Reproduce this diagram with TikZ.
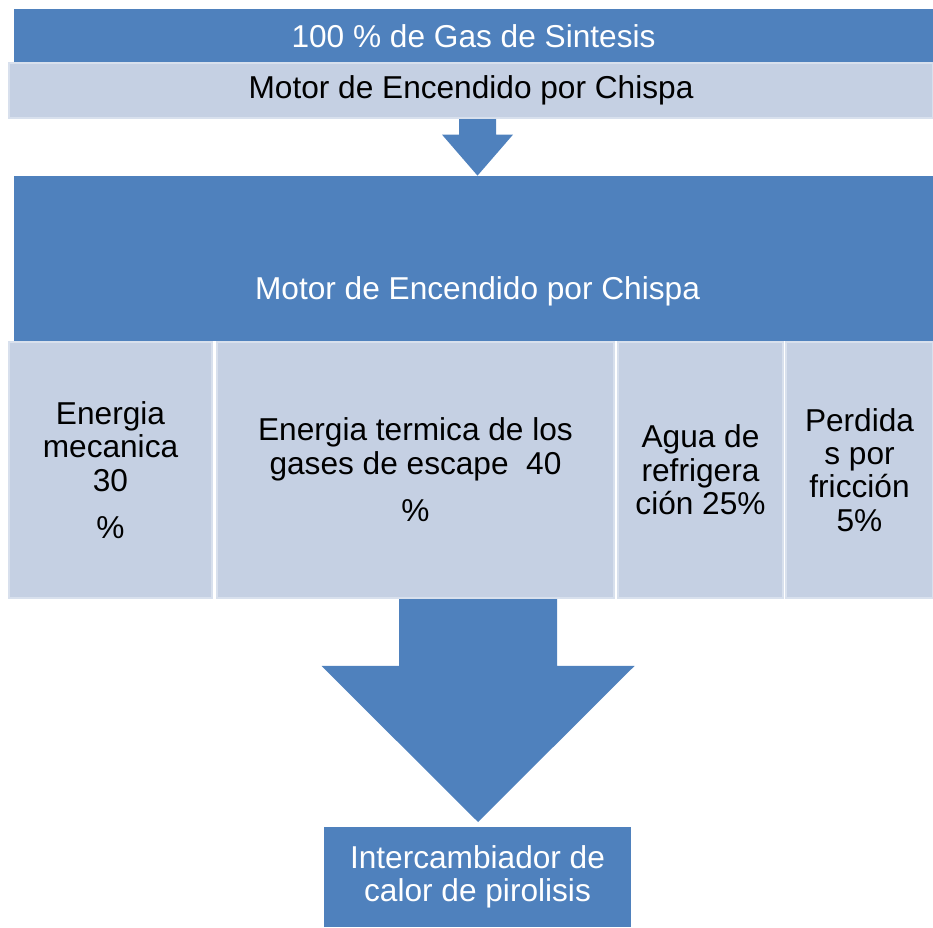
\documentclass[tikz,border=0pt]{standalone}
\usepackage{fontspec}
\setmainfont{Liberation Sans}
\usetikzlibrary{positioning}
\definecolor{boxblue}{RGB}{79,129,189}
\definecolor{boxlight}{RGB}{197,208,227}
\definecolor{boxedge}{RGB}{216,224,237}
\begin{document}
\begin{tikzpicture}[x=1cm,y=1cm]
\tikzset{
  bluebox/.style={rectangle,fill=boxblue,text=white,inner sep=0pt,align=center,
    font=\fontsize{18}{19}\selectfont},
  lightbox/.style={rectangle,fill=boxlight,draw=boxedge,line width=1.2pt,text=black,
    inner sep=0pt,align=center,font=\fontsize{18}{19}\selectfont},
  blockarrow/.style={fill=boxblue}
}
\useasboundingbox (0,0) rectangle (18.66,18.54);
\node[bluebox,minimum width=18.38cm,minimum height=1.08cm] (n_gas) at (9.47,17.82) {100 \% de Gas de Sintesis};
\node[lightbox,minimum width=18.48cm,minimum height=1.10cm] (n_chispa) at (9.42,16.73) {Motor de Encendido por Chispa};
\node[bluebox,minimum width=18.38cm,minimum height=3.30cm] (n_motor) at (9.47,13.37) {};
\node[bluebox] (n_motortxt) at (9.55,12.72) {Motor de Encendido por Chispa};
\node[lightbox,minimum width=4.06cm,minimum height=5.12cm] (n_mec) at (2.21,9.14) {Energia\\mecanica\\30\\[0.28cm]\%};
\node[lightbox,minimum width=7.94cm,minimum height=5.12cm] (n_term) at (8.31,9.14) {Energia termica de los\\gases de escape~~40\\[0.28cm]\%};
\node[lightbox,minimum width=3.30cm,minimum height=5.12cm] (n_agua) at (14.01,9.14) {Agua de\\refrigera\\ción 25\%};
\node[lightbox,minimum width=2.94cm,minimum height=5.12cm] (n_fric) at (17.19,9.14) {Perdida\\s por\\fricción\\5\%};
\node[bluebox,minimum width=6.14cm,minimum height=2.00cm] (n_heat) at (9.55,1.00) {Intercambiador de\\calor de pirolisis};
% block arrows
\coordinate (a1s) at (9.55,0 |- n_chispa.south);
\coordinate (a1e) at (9.55,0 |- n_motor.north);
\coordinate (a2s) at (9.56,0 |- n_term.south);
\coordinate (a2e) at (9.56,2.10);
\fill[blockarrow] ([xshift=-3.7mm]a1s) -- ([xshift=3.7mm]a1s) -- ([xshift=3.7mm,yshift=8.2mm]a1e)
  -- ([xshift=7.1mm,yshift=8.2mm]a1e) -- (a1e) -- ([xshift=-7.1mm,yshift=8.2mm]a1e)
  -- ([xshift=-3.7mm,yshift=8.2mm]a1e) -- cycle;
\fill[blockarrow] ([xshift=-15.8mm]a2s) -- ([xshift=15.8mm]a2s) -- ([xshift=15.8mm,yshift=31.2mm]a2e)
  -- ([xshift=31.3mm,yshift=31.2mm]a2e) -- (a2e) -- ([xshift=-31.3mm,yshift=31.2mm]a2e)
  -- ([xshift=-15.8mm,yshift=31.2mm]a2e) -- cycle;
\end{tikzpicture}
\end{document}
